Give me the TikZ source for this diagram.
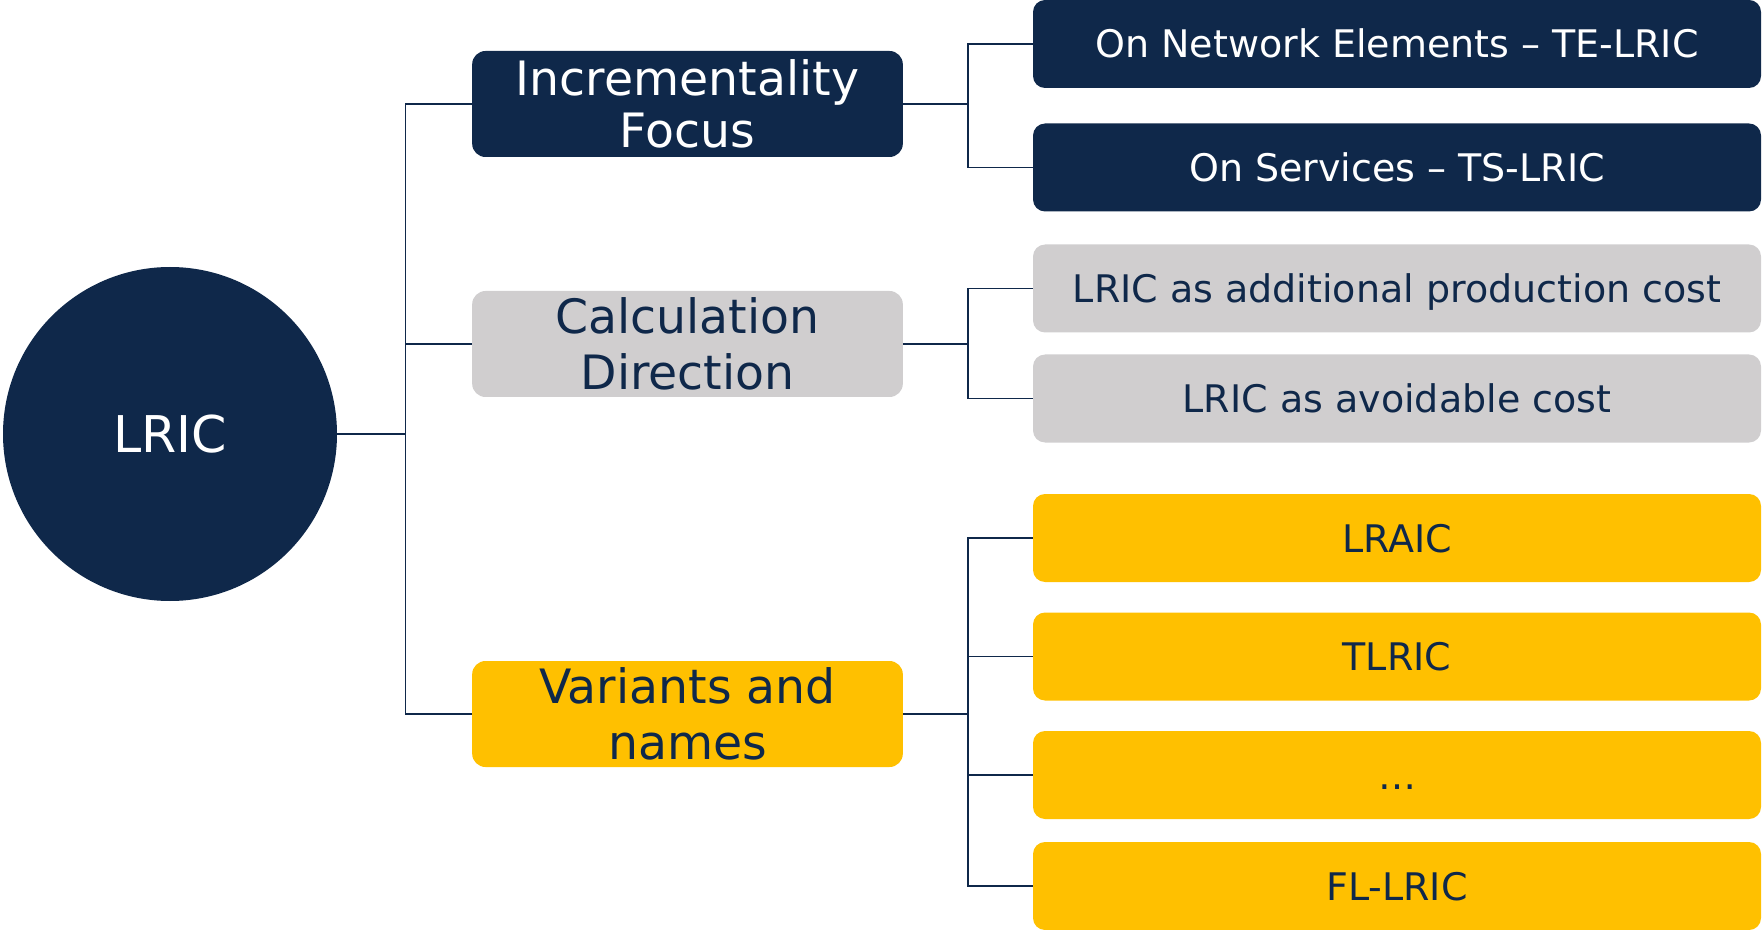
\documentclass[tikz,border=0pt]{standalone}
\usepackage{fontspec}
\setmainfont{DejaVu Sans}
\definecolor{navy}{RGB}{15,40,74}
\definecolor{lgray}{RGB}{208,206,207}
\definecolor{gold}{RGB}{255,192,0}

\tikzset{
  rootnode/.style={circle, fill=navy, text=white, minimum size=250.5pt, inner sep=0pt,
    font=\fontsize{38}{45}\selectfont},
  midbox/.style={rounded corners=10pt, minimum width=323pt, minimum height=79.5pt, inner sep=0pt,
    align=center, font=\fontsize{35.5}{42}\selectfont},
  leafbox/.style={rounded corners=9pt, minimum width=546pt, minimum height=66pt, inner sep=0pt,
    text height=21pt, text depth=0pt, font=\fontsize{28.5}{34}\selectfont},
  navyfill/.style={fill=navy, text=white},
  greyfill/.style={fill=lgray, text=navy},
  goldfill/.style={fill=gold, text=navy},
  conn/.style={draw=navy, line width=1pt},
}

\begin{document}
\begin{tikzpicture}[x=0.75pt,y=0.75pt,yscale=-1,xscale=1]
\useasboundingbox (0,0) rectangle (1763,930);

%Shape: Circle [root]
\node[rootnode] (lric) at (170,434) {LRIC};

%Shape: Rounded Rect [middle level]
\node[midbox, navyfill, font=\fontsize{35.5}{39}\selectfont] (incr) at (687.5,104) {Incrementality\\Focus};
\node[midbox, greyfill] (calc) at (687.5,344) {Calculation\\Direction};
\node[midbox, goldfill] (vari) at (687.5,714) {Variants and\\names};

%Shape: Rounded Rect [leaves]
\node[leafbox, navyfill] (telric) at (1397,44) {On Network Elements – TE-LRIC};
\node[leafbox, navyfill] (tslric) at (1397,167.5) {On Services – TS-LRIC};
\node[leafbox, greyfill] (addcost) at (1397,288.5) {LRIC as additional production cost};
\node[leafbox, greyfill] (avcost) at (1397,398.5) {LRIC as avoidable cost};
\node[leafbox, goldfill] (lraic) at (1397,538) {LRAIC};
\node[leafbox, goldfill] (tlric) at (1397,656.5) {TLRIC};
\node[leafbox, goldfill] (more) at (1397,775) {…};
\node[leafbox, goldfill] (fllric) at (1397,886) {FL-LRIC};

%Straight Lines [root to middle]
\foreach \m in {incr,calc,vari}
  \draw[conn] (lric.east) -- ++(68,0) |- (\m.west);

%Straight Lines [middle to leaves]
\foreach \l in {telric,tslric}
  \draw[conn] (incr.east) -- ++(65,0) |- (\l.west);
\foreach \l in {addcost,avcost}
  \draw[conn] (calc.east) -- ++(65,0) |- (\l.west);
\foreach \l in {lraic,tlric,more,fllric}
  \draw[conn] (vari.east) -- ++(65,0) |- (\l.west);

\end{tikzpicture}
\end{document}
